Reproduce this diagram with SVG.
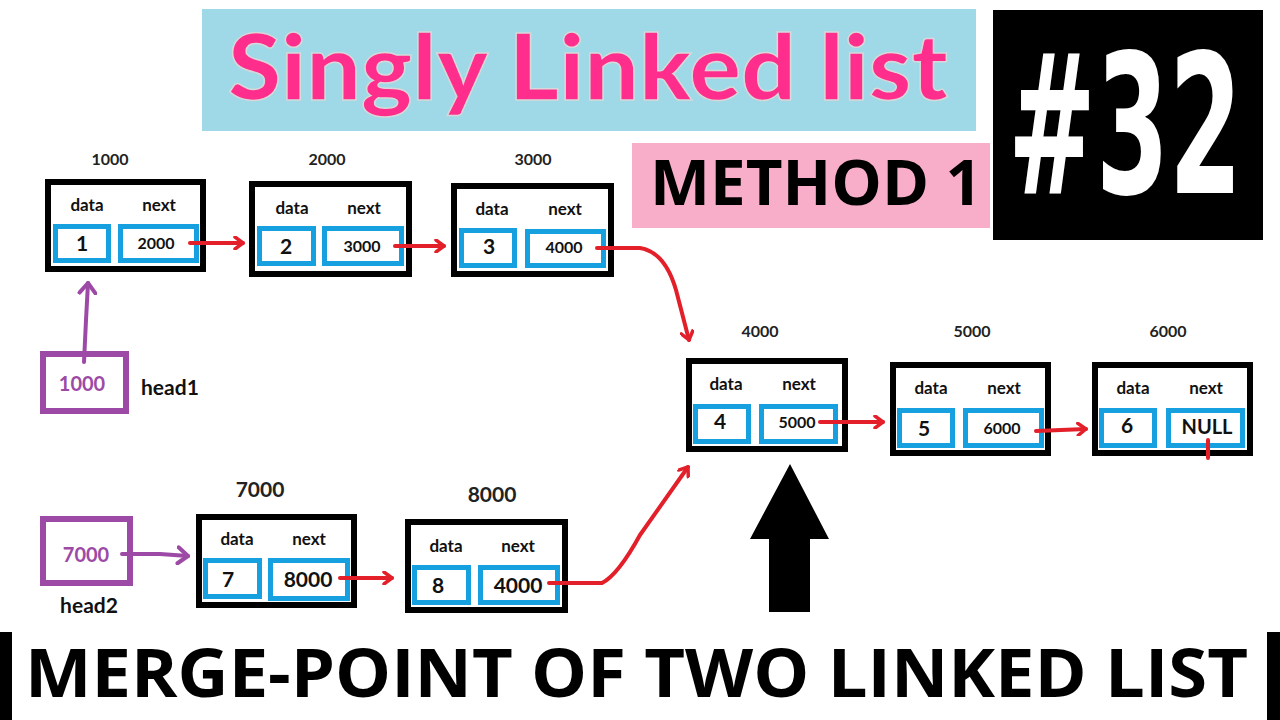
<svg xmlns="http://www.w3.org/2000/svg" width="1280" height="720" viewBox="0 0 1280 720">
  <defs>
    <style>
      .outer { fill: #ffffff; stroke: #000000; stroke-width: 6; }
      .cell { fill: #ffffff; stroke: #17a0e0; stroke-width: 5; }
      .hdr { font-family: Lato, "Liberation Sans", sans-serif; font-weight: 700; font-size: 17px; fill: #111111; text-anchor: middle; }
      .val { font-family: Lato, "Liberation Sans", sans-serif; font-weight: 700; font-size: 16px; fill: #111111; text-anchor: middle; }
      .big { font-size: 21px; }
      .addr { font-family: Lato, "Liberation Sans", sans-serif; font-weight: 700; font-size: 16px; fill: #222222; text-anchor: middle; }
      .addr2 { font-size: 21px; }
      .red { fill: none; stroke: #e3202a; stroke-width: 4; stroke-linecap: round; stroke-linejoin: round; }
      .purple { fill: none; stroke: #9c4aa6; stroke-width: 4; stroke-linecap: round; stroke-linejoin: round; }
      .pbox { fill: #ffffff; stroke: #9c4aa6; stroke-width: 6; }
      .ptxt { font-family: Lato, "Liberation Sans", sans-serif; font-weight: 700; font-size: 20px; fill: #9c4aa6; text-anchor: middle; }
      .head { font-family: Lato, "Liberation Sans", sans-serif; font-weight: 700; font-size: 21px; fill: #111111; }
    </style>
    <marker id="ar" viewBox="0 0 12 14" refX="10" refY="7" markerWidth="12" markerHeight="14" markerUnits="userSpaceOnUse" orient="auto">
      <path d="M2,1 L10,7 L2,13" fill="none" stroke="#e3202a" stroke-width="3.5" stroke-linecap="round" stroke-linejoin="round"/>
    </marker>
    <marker id="ap" viewBox="0 0 14 20" refX="12" refY="10" markerWidth="14" markerHeight="20" markerUnits="userSpaceOnUse" orient="auto">
      <path d="M2,2 L12,10 L2,18" fill="none" stroke="#9c4aa6" stroke-width="4" stroke-linecap="round" stroke-linejoin="round"/>
    </marker>
  </defs>

  <rect x="0" y="0" width="1280" height="720" fill="#ffffff"/>

  <!-- Title banner -->
  <g id="title">
    <rect x="202" y="9" width="774" height="122" fill="#9fd8e7"/>
    <text x="228" y="100" textLength="720" lengthAdjust="spacingAndGlyphs" font-family="Lato, 'Liberation Sans', sans-serif" font-weight="900" font-size="92" fill="#ff2d8c" stroke="#d8d8d8" stroke-width="1.5">Singly Linked list</text>
  </g>

  <g id="episode">
    <rect x="993" y="10" width="270" height="230" fill="#000000"/>
    <text transform="translate(1008,193) scale(1,1.84)" x="0" y="0" textLength="234" lengthAdjust="spacingAndGlyphs" font-family="'DejaVu Sans', sans-serif" font-weight="700" font-size="106" fill="#ffffff">#32</text>
  </g>

  <g id="method">
    <rect x="632" y="143" width="358" height="85" fill="#f8aec8"/>
    <text x="650" y="205" textLength="332" lengthAdjust="spacingAndGlyphs" font-family="'Open Sans', 'Liberation Sans', sans-serif" font-weight="700" font-size="63" fill="#000000">METHOD 1</text>
  </g>

  <!-- Nodes -->
  <g id="node1000" transform="translate(45,179)">
    <rect class="outer" x="3" y="3" width="155" height="87"/>
    <rect class="cell" x="10.5" y="47.5" width="53" height="34"/>
    <rect class="cell" x="75.5" y="47.5" width="76" height="34"/>
    <text class="hdr" x="42" y="32">data</text>
    <text class="hdr" x="114" y="32">next</text>
    <text class="val big" x="37" y="72">1</text>
    <text class="val" x="111" y="70">2000</text>
  </g>
  <text class="addr" x="110" y="165">1000</text>

  <g id="node2000" transform="translate(249,181)">
    <rect class="outer" x="3" y="3" width="157" height="90"/>
    <rect class="cell" x="10.5" y="47.5" width="54" height="35"/>
    <rect class="cell" x="75.5" y="47.5" width="77" height="35"/>
    <text class="hdr" x="43" y="33">data</text>
    <text class="hdr" x="115" y="33">next</text>
    <text class="val big" x="37" y="73">2</text>
    <text class="val" x="113" y="71">3000</text>
  </g>
  <text class="addr" x="327" y="165">2000</text>

  <g id="node3000" transform="translate(451,183)">
    <rect class="outer" x="3" y="3" width="157" height="88"/>
    <rect class="cell" x="10.5" y="47.5" width="53" height="35"/>
    <rect class="cell" x="76.5" y="48.5" width="76" height="34"/>
    <text class="hdr" x="41" y="32">data</text>
    <text class="hdr" x="114" y="32">next</text>
    <text class="val big" x="38" y="71">3</text>
    <text class="val" x="113" y="70">4000</text>
  </g>
  <text class="addr" x="533" y="165">3000</text>

  <g id="node4000" transform="translate(686,358)">
    <rect class="outer" x="3" y="3" width="156" height="88"/>
    <rect class="cell" x="9.5" y="48.5" width="53" height="35"/>
    <rect class="cell" x="75.5" y="48.5" width="74" height="35"/>
    <text class="hdr" x="40" y="32">data</text>
    <text class="hdr" x="113" y="32">next</text>
    <text class="val big" x="34" y="71">4</text>
    <text class="val" x="111" y="70">5000</text>
  </g>
  <text class="addr" x="760" y="337">4000</text>

  <g id="node5000" transform="translate(890,362)">
    <rect class="outer" x="3" y="3" width="155" height="88"/>
    <rect class="cell" x="9.5" y="48.5" width="53" height="35"/>
    <rect class="cell" x="75.5" y="48.5" width="76" height="35"/>
    <text class="hdr" x="41" y="32">data</text>
    <text class="hdr" x="114" y="32">next</text>
    <text class="val big" x="34" y="74">5</text>
    <text class="val" x="112" y="72">6000</text>
  </g>
  <text class="addr" x="972" y="337">5000</text>

  <g id="node6000" transform="translate(1092,362)">
    <rect class="outer" x="3" y="3" width="155" height="88"/>
    <rect class="cell" x="9.5" y="48.5" width="53" height="35"/>
    <rect class="cell" x="76.5" y="48.5" width="74" height="35"/>
    <text class="hdr" x="41" y="32">data</text>
    <text class="hdr" x="114" y="32">next</text>
    <text class="val big" x="35" y="71">6</text>
    <text class="val big" x="115" y="72" style="font-size:20px">NULL</text>
  </g>
  <text class="addr" x="1168" y="337">6000</text>

  <g id="node7000" transform="translate(196,514)">
    <rect class="outer" x="3" y="3" width="155" height="88"/>
    <rect class="cell" x="9.5" y="46.5" width="54" height="36"/>
    <rect class="cell" x="74.5" y="46.5" width="77" height="38"/>
    <text class="hdr" x="41" y="31">data</text>
    <text class="hdr" x="113" y="31">next</text>
    <text class="val big" x="32" y="73">7</text>
    <text class="val big" x="112" y="73">8000</text>
  </g>
  <text class="addr addr2" x="260" y="497">7000</text>

  <g id="node8000" transform="translate(405,519)">
    <rect class="outer" x="3" y="3" width="157" height="88"/>
    <rect class="cell" x="9.5" y="48.5" width="54" height="35"/>
    <rect class="cell" x="75.5" y="48.5" width="77" height="35"/>
    <text class="hdr" x="41" y="33">data</text>
    <text class="hdr" x="113" y="33">next</text>
    <text class="val big" x="33" y="74">8</text>
    <text class="val big" x="113" y="74">4000</text>
  </g>
  <text class="addr addr2" x="492" y="502">8000</text>

  <!-- Head pointers -->
  <g id="head1">
    <rect class="pbox" x="43" y="354" width="83" height="57"/>
    <text class="ptxt" x="82" y="391">1000</text>
    <text class="head" x="141" y="395">head1</text>
  </g>
  <g id="head2">
    <rect class="pbox" x="43" y="519" width="87" height="64"/>
    <text class="ptxt" x="86" y="562">7000</text>
    <text class="head" x="89" y="613" text-anchor="middle">head2</text>
  </g>

  <!-- Big merge-point arrow -->
  <g id="mergeArrow">
    <polygon points="790,464 829,539 810,539 810,612 769,612 769,539 750,539" fill="#000000"/>
  </g>

  <!-- Connectors -->
  <g id="connectors">
    <path class="red" d="M190,243 L243,243" marker-end="url(#ar)"/>
    <path class="red" d="M395,246 L444,246" marker-end="url(#ar)"/>
    <path class="red" d="M597,248 L640,248 Q665,252 676,290 L689,340" marker-end="url(#ar)"/>
    <path class="red" d="M820,422 L883,422" marker-end="url(#ar)"/>
    <path class="red" d="M1036,431 L1086,429" marker-end="url(#ar)"/>
    <path class="red" d="M1208,440 L1208,458"/>
    <path class="red" d="M340,578 L392,578" marker-end="url(#ar)"/>
    <path class="red" d="M549,583 L602,583 Q618,575 640,535 L688,467" marker-end="url(#ar)"/>
    <path class="purple" d="M84,362 L86,320 L88,283" marker-end="url(#ap)"/>
    <path class="purple" d="M122,554 L160,554 L188,556" marker-end="url(#ap)"/>
  </g>

  <!-- Bottom caption -->
  <g id="caption">
    <rect x="0" y="632" width="12" height="88" fill="#000000"/>
    <rect x="1267" y="632" width="13" height="88" fill="#000000"/>
    <text x="25" y="697" textLength="1223" lengthAdjust="spacingAndGlyphs" font-family="'Open Sans', 'Liberation Sans', sans-serif" font-weight="700" font-size="66" fill="#000000">MERGE-POINT OF TWO LINKED LIST</text>
  </g>
</svg>
